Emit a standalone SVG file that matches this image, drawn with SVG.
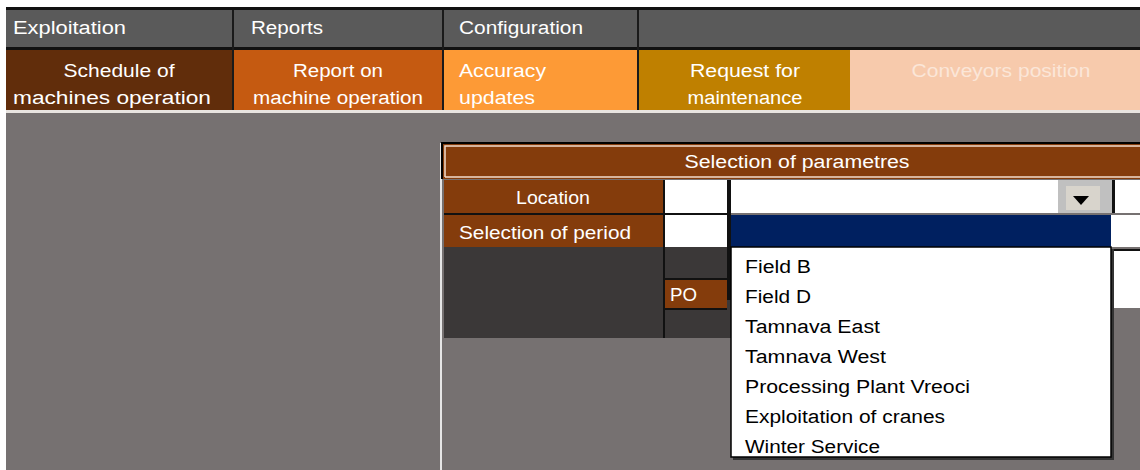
<svg xmlns="http://www.w3.org/2000/svg" width="1140" height="470" viewBox="0 0 1140 470">
<style>
text{font-family:"Liberation Sans",Arial,sans-serif;font-size:18px;fill:#ffffff;lengthAdjust:spacing}
.c{text-anchor:middle}
.k{fill:#000000}
.lt{fill:#fbe6d8}
.sep{fill:#1a1a1a}
</style>
<rect x="0" y="0" width="1140" height="470" fill="#ffffff"/>
<rect x="6" y="113" width="1134" height="357" fill="#767171"/>
<g id="menubar">
<rect x="6" y="7" width="1134" height="3" fill="#111"/>
<rect x="6" y="10" width="1134" height="37" fill="#5a5a5a"/>
<rect x="6" y="47" width="1134" height="3" fill="#111"/>
<rect x="232" y="10" width="2" height="100" class="sep"/>
<rect x="442" y="10" width="2" height="100" class="sep"/>
<rect x="637" y="10" width="2" height="100" class="sep"/>
</g>
<g id="menu-exploitation"><text x="13" y="34" textLength="113" lengthAdjust="spacingAndGlyphs">Exploitation</text></g>
<g id="menu-reports"><text x="251" y="34" textLength="72" lengthAdjust="spacingAndGlyphs">Reports</text></g>
<g id="menu-configuration"><text x="459" y="34" textLength="124" lengthAdjust="spacingAndGlyphs">Configuration</text></g>
<g id="tab-schedule">
<rect x="6" y="50" width="226" height="60" fill="#612d0b"/>
<text x="119" y="77" class="c" textLength="111" lengthAdjust="spacingAndGlyphs">Schedule of</text>
<text x="112" y="104" class="c" textLength="198" lengthAdjust="spacingAndGlyphs">machines operation</text>
</g>
<g id="tab-report">
<rect x="234" y="50" width="208" height="60" fill="#c55a11"/>
<text x="338" y="77" class="c" textLength="90" lengthAdjust="spacingAndGlyphs">Report on</text>
<text x="338" y="104" class="c" textLength="170" lengthAdjust="spacingAndGlyphs">machine operation</text>
</g>
<g id="tab-accuracy">
<rect x="444" y="50" width="193" height="60" fill="#fd9a36"/>
<text x="459" y="77" textLength="87" lengthAdjust="spacingAndGlyphs">Accuracy</text>
<text x="459" y="104" textLength="76" lengthAdjust="spacingAndGlyphs">updates</text>
</g>
<g id="tab-request">
<rect x="639" y="50" width="211" height="60" fill="#bf8000"/>
<text x="745" y="77" class="c" textLength="110" lengthAdjust="spacingAndGlyphs">Request for</text>
<text x="745" y="104" class="c" textLength="115" lengthAdjust="spacingAndGlyphs">maintenance</text>
</g>
<g id="tab-conveyors">
<rect x="850" y="50" width="290" height="60" fill="#f7caac"/>
<text x="1001" y="77" class="c lt" textLength="179" lengthAdjust="spacingAndGlyphs">Conveyors position</text>
</g>
<rect x="6" y="110" width="1134" height="3" fill="#e8e4e0"/>
<rect x="440" y="143" width="2" height="327" fill="#e6e6e6"/>
<g id="table-header">
<rect x="442" y="143" width="698" height="36" fill="#843c0c"/>
<path d="M442 179 V143 H1140" fill="none" stroke="#000" stroke-width="2"/>
<path d="M445 177 V146 H1140 M445 177 H1140" fill="none" stroke="#f2dccd" stroke-width="1.5"/>
<text x="797" y="168" class="c" textLength="225" lengthAdjust="spacingAndGlyphs">Selection of parametres</text>
</g>
<g id="row-location">
<rect x="444" y="180" width="219" height="33" fill="#843c0c"/>
<text x="553" y="204" class="c" textLength="74" lengthAdjust="spacingAndGlyphs">Location</text>
<rect x="665" y="180" width="62" height="33" fill="#ffffff"/>
</g>
<g id="row-period">
<rect x="444" y="215" width="219" height="32" fill="#843c0c"/>
<text x="459" y="239" textLength="172" lengthAdjust="spacingAndGlyphs">Selection of period</text>
<rect x="665" y="215" width="62" height="32" fill="#ffffff"/>
</g>
<rect x="444" y="213" width="287" height="2" fill="#111"/>
<g id="dark-area">
<rect x="444" y="247" width="287" height="91" fill="#3b3838"/>
<rect x="663" y="180" width="2" height="158" fill="#111"/>
<rect x="727" y="180" width="4" height="120" fill="#111"/>
<rect x="665" y="278" width="62" height="2" fill="#111"/>
</g>
<g id="cell-po">
<rect x="665" y="280" width="62" height="28" fill="#843c0c"/>
<rect x="665" y="308" width="62" height="2" fill="#111"/>
<text x="670" y="301" textLength="27" lengthAdjust="spacingAndGlyphs">PO</text>
</g>
<g id="location-combo">
<rect x="731" y="180" width="327" height="33" fill="#ffffff"/>
<rect x="1058" y="180" width="54" height="33" fill="#c0c0c0"/>
<rect x="1066" y="186" width="34" height="24" fill="#d8d4cc"/>
<path d="M1073 196 H1089 L1081 205 Z" fill="#000"/>
<rect x="1112" y="180" width="3" height="33" fill="#111"/>
<rect x="1115" y="180" width="25" height="33" fill="#ffffff"/>
</g>
<g id="selected-row">
<rect x="731" y="215" width="380" height="32" fill="#002060"/>
<rect x="1111" y="215" width="29" height="32" fill="#ffffff"/>
</g>
<g id="right-cell">
<rect x="1112" y="249" width="28" height="59" fill="#ffffff"/>
<path d="M1112 250 H1140" stroke="#111" stroke-width="2"/>
</g>
<g id="dropdown-list">
<rect x="733" y="249" width="381" height="211" fill="#333"/>
<rect x="731" y="247" width="380" height="210" fill="#ffffff" stroke="#000" stroke-width="1.5"/>
<text x="745" y="273" class="k" textLength="66" lengthAdjust="spacingAndGlyphs">Field B</text>
<text x="745" y="303" class="k" textLength="66" lengthAdjust="spacingAndGlyphs">Field D</text>
<text x="745" y="333" class="k" textLength="135" lengthAdjust="spacingAndGlyphs">Tamnava East</text>
<text x="745" y="363" class="k" textLength="141" lengthAdjust="spacingAndGlyphs">Tamnava West</text>
<text x="745" y="393" class="k" textLength="225" lengthAdjust="spacingAndGlyphs">Processing Plant Vreoci</text>
<text x="745" y="423" class="k" textLength="200" lengthAdjust="spacingAndGlyphs">Exploitation of cranes</text>
<text x="745" y="453" class="k" textLength="135" lengthAdjust="spacingAndGlyphs">Winter Service</text>
</g>
</svg>
